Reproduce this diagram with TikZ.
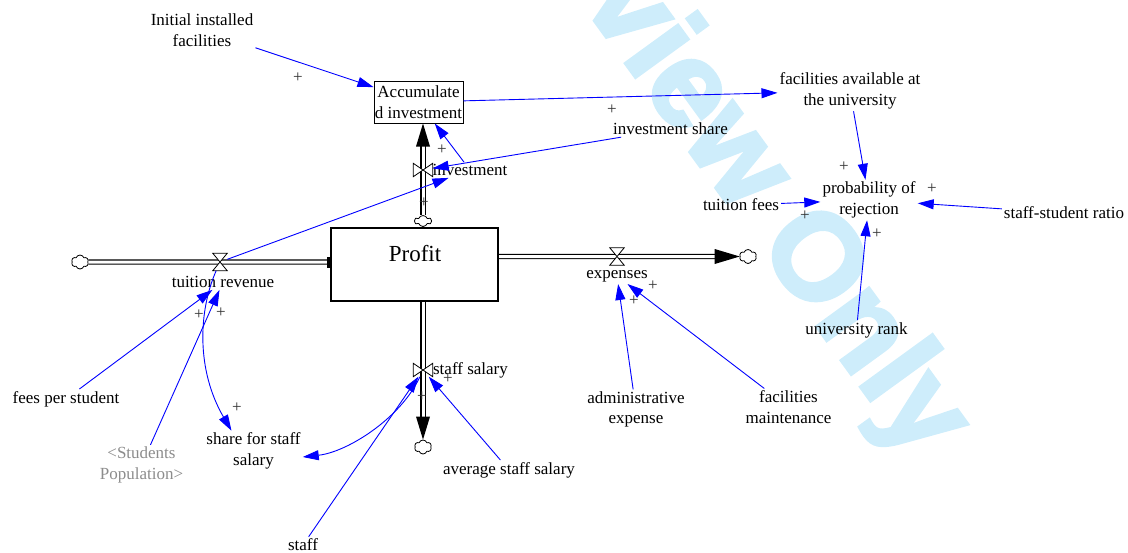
\documentclass[tikz,border=0pt]{standalone}
\usepackage{fontspec}
\setmainfont{Liberation Serif}
\newfontfamily\wmfont{Liberation Sans}[BoldFeatures={FakeBold=3}]
\usetikzlibrary{arrows.meta,shapes.symbols}

\definecolor{linkblue}{RGB}{0,0,255}
\definecolor{ghostgray}{RGB}{140,140,140}
\definecolor{wmblue}{RGB}{206,237,251}
\definecolor{plusgray}{RGB}{50,50,50}
\newcommand{\lblfont}{\fontsize{17}{20.5}\selectfont}

\tikzset{
  lbl/.style={font=\lblfont, inner sep=2pt, align=center},
  link/.style={draw=linkblue, line width=0.9pt, -{Triangle[length=16pt,width=10pt]}},
  pipe/.style={draw=black, line width=1.1pt, double=white, double distance=3pt},
  pipetip/.style={draw=none, fill=black},
  valveh/.style={minimum width=14pt, minimum height=17pt, inner sep=0pt},
  valvev/.style={minimum width=19pt, minimum height=13pt, inner sep=0pt},
  valveline/.style={draw=black, fill=white, line width=0.8pt},
  cloudsrc/.style={cloud, cloud puffs=6, cloud puff arc=140, aspect=1.2, draw, fill=white,
                   line width=0.8pt, minimum width=17pt, minimum height=14pt, inner sep=0pt},
  pl/.style={font=\fontsize{17}{17}\selectfont, text=plusgray, inner sep=0pt},
}

\begin{document}
\begin{tikzpicture}[x=1pt,y=-1pt]
\useasboundingbox (0,0) rectangle (1128,552);

% background stamp
\begin{scope}
  \clip (0,0) rectangle (1128,552);
  \node[text=wmblue, font=\wmfont\bfseries\fontsize{122}{122}\selectfont,
        rotate=-54, inner sep=0pt] (stamp) at (716,134) {Preview Only};
\end{scope}

% ---------- stocks ----------
\node[draw, line width=1pt, minimum width=89pt, minimum height=42pt, inner sep=0pt,
      font=\lblfont, align=center] (acc) at (418.5,102) {Accumulate\\d investment};
\node[draw, line width=2pt, minimum width=167pt, minimum height=73pt] (prof) at (414.5,264.5) {};
\node[font=\fontsize{23}{26}\selectfont, inner sep=0pt] (proft) at (415,254) {Profit};

% ---------- valves, clouds and flow labels ----------
\node[valvev] (invv) at (423,170) {};
\node[valveh] (trv) at (220,262) {};
\node[valveh] (exv) at (617,256.5) {};
\node[valvev] (ssv) at (423,370) {};

\node[cloudsrc, minimum height=11pt] (invc) at (423,221) {};
\node[cloudsrc] (trc) at (80,262) {};
\node[cloudsrc] (exc) at (748,256.5) {};
\node[cloudsrc] (ssc) at (423,447) {};

\coordinate (invtop) at (invv |- acc.south);
\coordinate (trend) at (prof.west |- trv);
\coordinate (exstart) at (prof.east |- exv);
\coordinate (ssstart) at (ssv |- prof.south);
\coordinate (extip) at (exc.west);
\coordinate (sstip) at (ssc.north);

% pipes
\draw[pipe, shorten >=10pt] (invc.north) -- (invv.center) -- (invtop);
\draw[pipe] (trc.east) -- (trv.center) -- (trend);
\draw[pipe, shorten >=10pt] (exstart) -- (exv.center) -- (extip);
\draw[pipe, shorten >=10pt] (ssstart) -- (ssv.center) -- (sstip);

% pipe heads
\fill[pipetip] (invtop) -- ++(-7,23) -- ++(14,0) -- cycle;
\fill[pipetip] (extip) -- ++(-25,-7.5) -- ++(0,15) -- cycle;
\fill[pipetip] (sstip) -- ++(-7,-23) -- ++(14,0) -- cycle;
\fill[pipetip] (trend) ++(-3,-5.5) rectangle ++(5,11);

% valve symbols
\draw[valveline] (invv.north west) -- (invv.south west) -- (invv.north east) -- (invv.south east) -- cycle;
\draw[valveline] (ssv.north west) -- (ssv.south west) -- (ssv.north east) -- (ssv.south east) -- cycle;
\draw[valveline] (trv.north west) -- (trv.north east) -- (trv.south west) -- (trv.south east) -- cycle;
\draw[valveline] (exv.north west) -- (exv.north east) -- (exv.south west) -- (exv.south east) -- cycle;

\node[lbl] (invl) at (470,170) {investment};
\node[lbl] (trl) at (223,282) {tuition revenue};
\node[lbl] (exl) at (617,276) {expenses};
\node[lbl] (ssl) at (470.5,370) {staff salary};

% ---------- auxiliaries ----------
\node[lbl] (iif) at (202,30) {Initial installed\\facilities};
\node[lbl] (fav) at (850,91) {facilities available at\\the university};
\node[lbl] (invsh) at (670.5,129) {investment share};
\node[lbl] (prob) at (869,200) {probability of\\rejection};
\node[lbl] (tfees) at (741,205) {tuition fees};
\node[lbl] (ssr) at (1064,213) {staff-student ratio};
\node[lbl] (urank) at (856.5,330) {university rank};
\node[lbl] (adm) at (636,409.5) {administrative\\expense};
\node[lbl] (fmaint) at (788.5,407) {facilities\\maintenance};
\node[lbl] (fps) at (66,399) {fees per student};
\node[lbl, text=ghostgray] (spop) at (141.5,465) {<Students\\Population>};
\node[lbl] (sfss) at (253.5,451) {share for staff\\salary};
\node[lbl] (asal) at (509,470) {average staff salary};
\node[lbl] (staff) at (303,545) {staff};

% ---------- causal links ----------
\draw[link] (iif) -- (acc);
\draw[link] (acc) -- (fav);
\draw[link] (invsh) -- (invv);
\draw[link] (invl) -- (acc);
\draw[link] (trv) -- (invl);
\draw[link] (fps) -- (trl);
\draw[link] (spop) -- (trl);
\draw[link] (trv) .. controls +(-22,50) and +(-35,-60) .. ([xshift=-22pt]sfss.north);
\draw[link] (ssv) .. controls +(-22,48) and +(45,-5) .. ([yshift=-6pt]sfss.east);
\draw[link] (staff) -- (ssv);
\draw[link] (asal) -- (ssv);
\draw[link] (adm) -- (exl);
\draw[link] (fmaint) -- (exl);
\draw[link] (fav) -- (prob);
\draw[link] (tfees) -- (prob);
\draw[link] (ssr) -- (prob);
\draw[link] (urank) -- (prob);

% ---------- polarity signs ----------
\node[pl] (p1) at (298,78) {+};
\node[pl] (p2) at (612,110) {+};
\node[pl] (p3) at (442,150) {+};
\node[pl] (p4) at (424,203) {+};
\node[pl] (p5) at (199,315) {+};
\node[pl] (p6) at (221,313) {+};
\node[pl] (p7) at (237,408) {+};
\node[pl] (p8) at (422,397) {+};
\node[pl] (p9) at (448,379) {+};
\node[pl] (p10) at (634,301) {+};
\node[pl] (p11) at (653,286) {+};
\node[pl] (p12) at (844,167) {+};
\node[pl] (p13) at (805,216) {+};
\node[pl] (p14) at (932,189) {+};
\node[pl] (p15) at (877,234) {+};
\end{tikzpicture}
\end{document}
